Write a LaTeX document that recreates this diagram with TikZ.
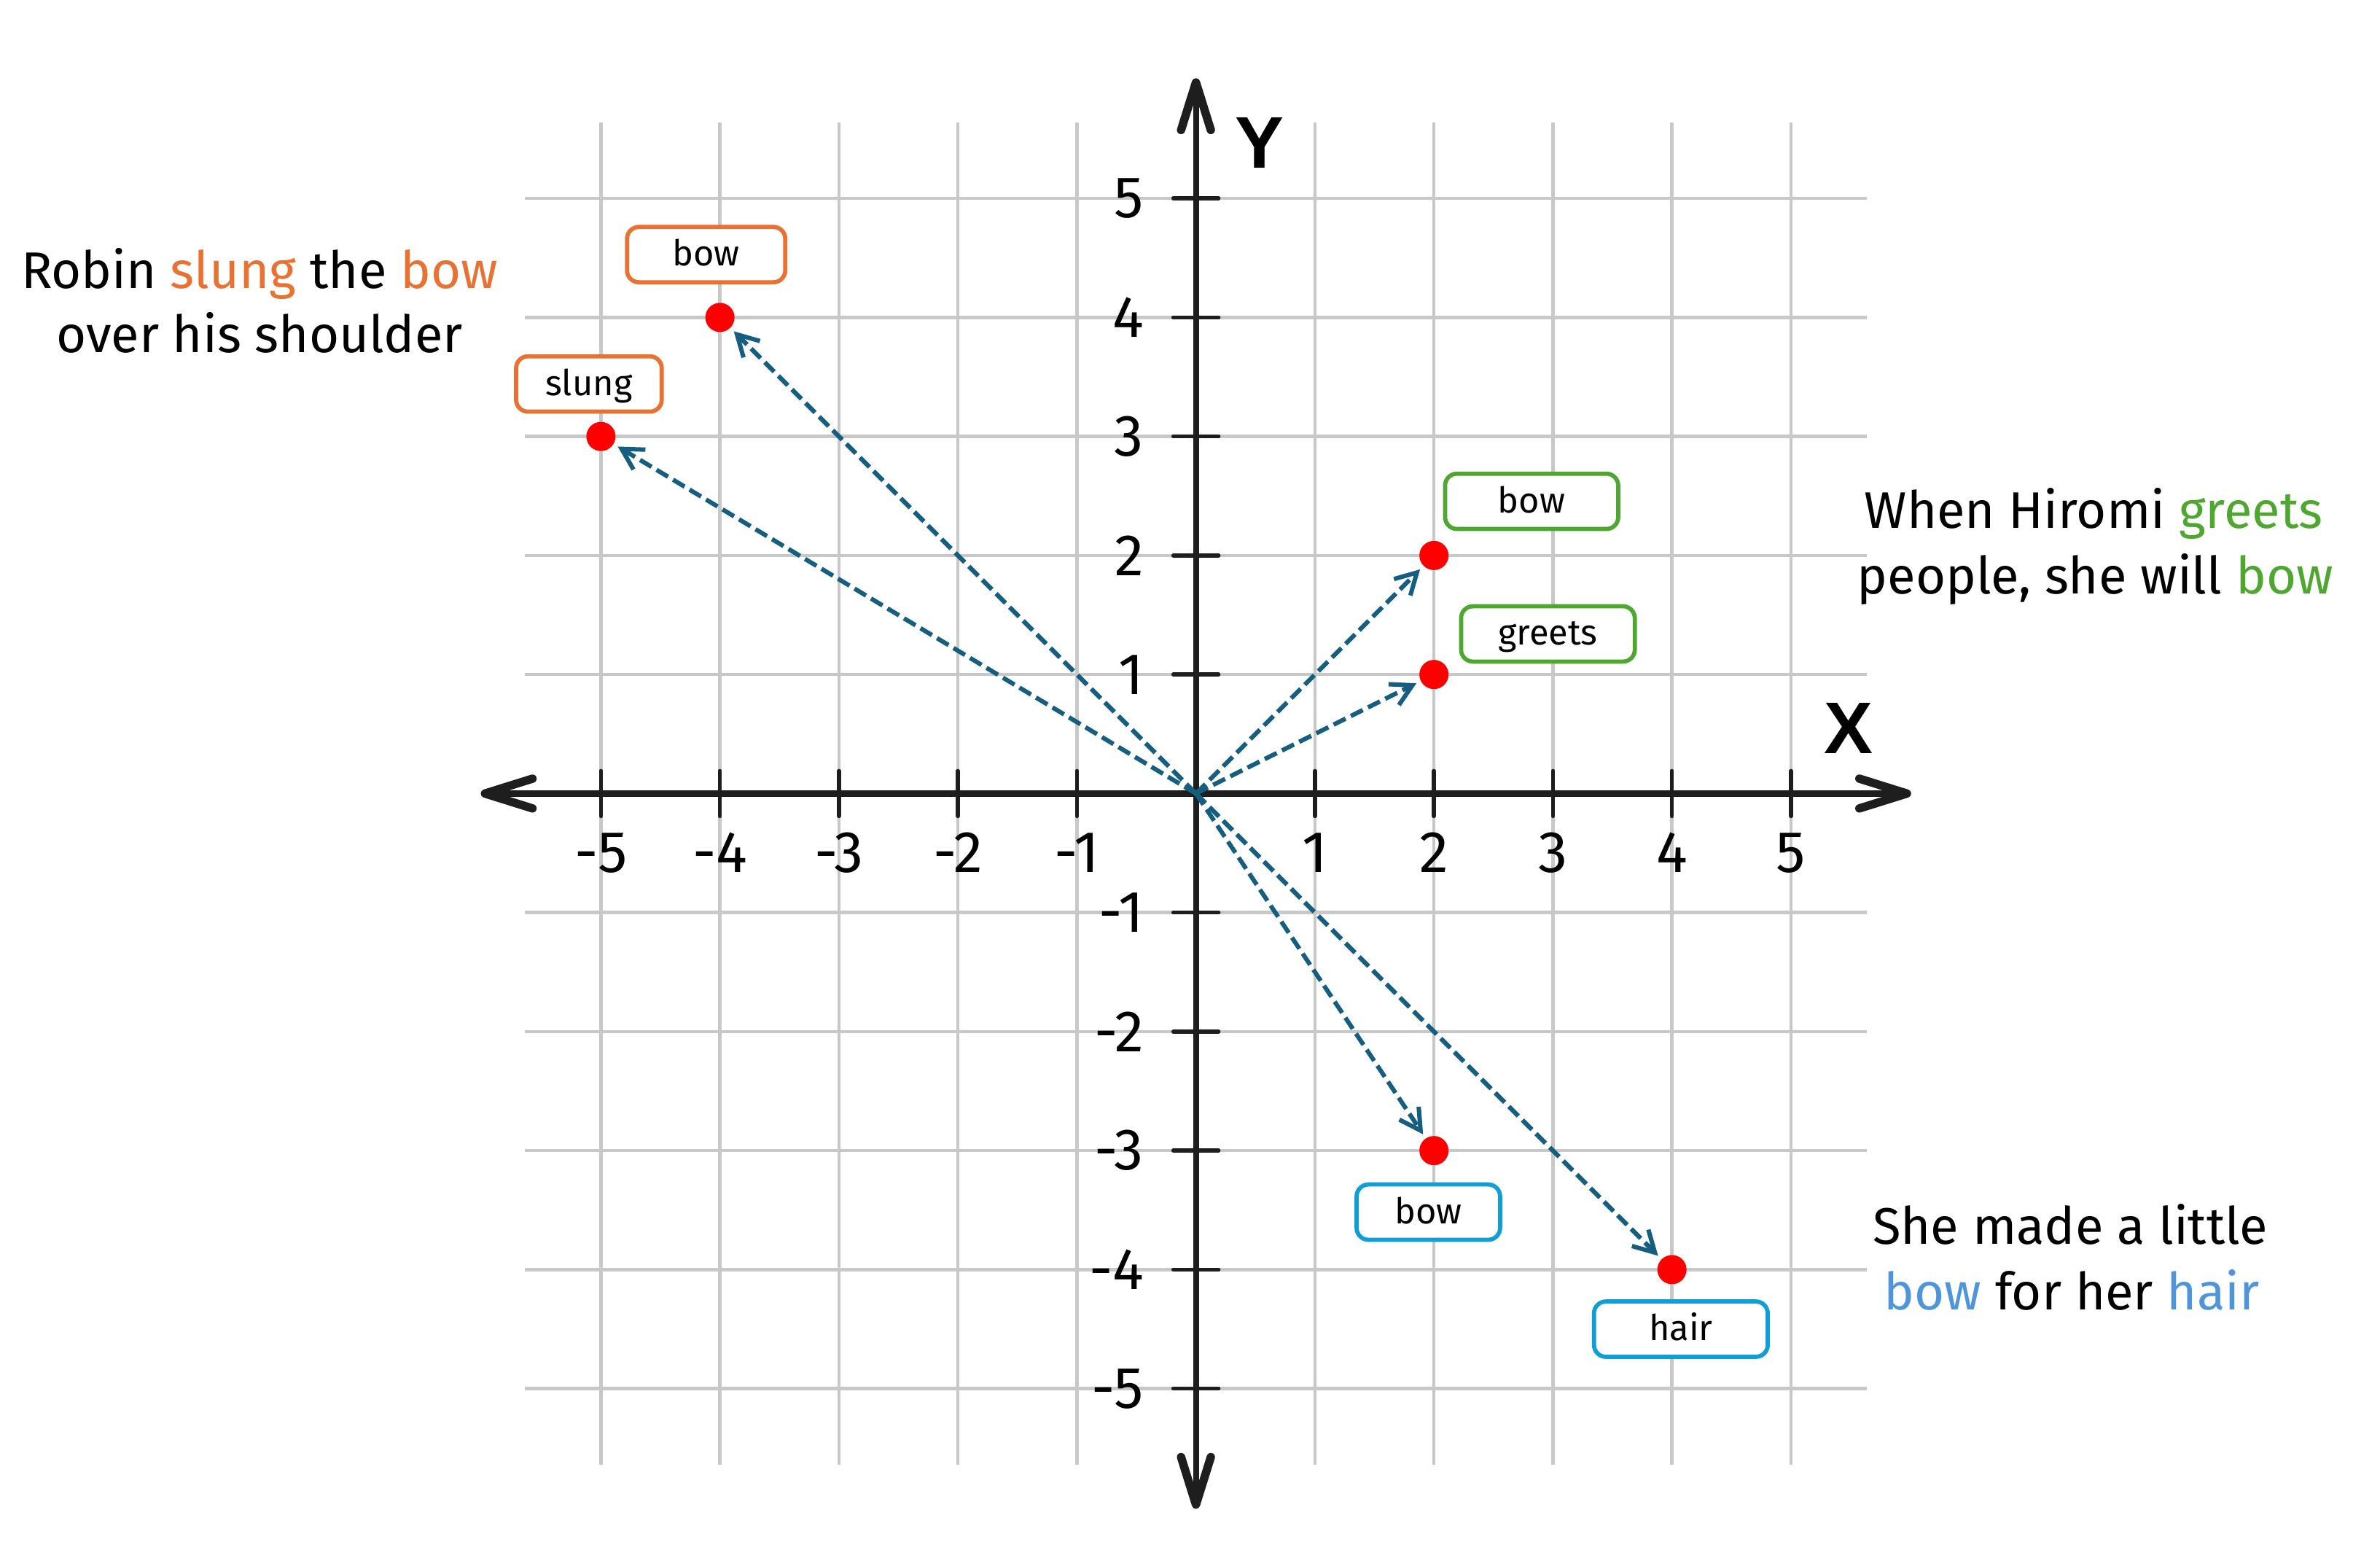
\documentclass[tikz,border=0pt]{standalone}
\usepackage{fontspec}
\setmainfont{Fira Sans}
\newfontfamily\axislabelfont{Liberation Sans}
\usetikzlibrary{arrows.meta,calc}
\definecolor{gridgray}{HTML}{C8C8C8}
\definecolor{axisblack}{HTML}{1E1E1E}
\definecolor{vecblue}{HTML}{155E80}
\definecolor{dotred}{HTML}{FF0000}
\definecolor{ornge}{HTML}{E97132}
\definecolor{grn}{HTML}{4EA72E}
\definecolor{boxblue}{HTML}{0F9ED5}
\definecolor{txtblue}{HTML}{4E95D9}
\begin{document}
\begin{tikzpicture}[
  gridline/.style={draw=gridgray, line width=0.8pt},
  axisline/.style={draw=axisblack, line width=1.45pt},
  axishead/.style={draw=axisblack, line width=2pt, line cap=round, line join=round},
  tickline/.style={draw=axisblack, line width=0.95pt, line cap=round},
  ticklabel/.style={font=\fontsize{14}{16}\selectfont, inner sep=0pt, text=black},
  axisname/.style={font=\axislabelfont\bfseries\fontsize{17.5}{20}\selectfont, inner sep=0pt},
  vec/.style={draw=vecblue, line width=1.05pt, dash pattern=on 3.2pt off 1.4pt,
    -{Straight Barb[length=1.75mm,width=1.95mm]}, shorten >=1pt},
  dot/.style={circle, fill=dotred, inner sep=0pt, minimum size=0.245cm},
  wordbox/.style={fill=white, rounded corners=1mm, line width=1pt, inner sep=0pt,
    minimum height=0.465cm, text height=0.19cm, text depth=0pt,
    font=\fontsize{8.5}{10}\selectfont},
  sentence/.style={font=\fontsize{12.3}{15}\selectfont, inner sep=0pt, anchor=base},
]
\useasboundingbox (-10.05,-6.283) rectangle (9.95,6.667);
\fill[white] (-10.05,-6.283) rectangle (9.95,6.667);

% grid
\foreach \i in {-5,...,5} {
  \draw[gridline] (\i,-5.64) -- (\i,5.64);
  \draw[gridline] (-5.64,\i) -- (5.64,\i);
}

% axes
\coordinate (O) at (0,0);
\coordinate (xlft) at (-5.975,0);
\coordinate (xrgt) at (5.975,0);
\coordinate (ybot) at (0,-5.975);
\coordinate (ytop) at (0,5.975);
\draw[axisline] (xlft) -- (xrgt);
\draw[axisline] (ybot) -- (ytop);
\draw[axishead] ($(xrgt)+(-0.40,0.125)$) -- (xrgt) -- ($(xrgt)+(-0.40,-0.125)$);
\draw[axishead] ($(xlft)+(0.40,0.125)$) -- (xlft) -- ($(xlft)+(0.40,-0.125)$);
\draw[axishead] ($(ytop)+(-0.125,-0.40)$) -- (ytop) -- ($(ytop)+(0.125,-0.40)$);
\draw[axishead] ($(ybot)+(-0.125,0.40)$) -- (ybot) -- ($(ybot)+(0.125,0.40)$);

% ticks and labels
\foreach \i [count=\k] in {-5,-4,-3,-2,-1,1,2,3,4,5} {
  \draw[tickline] (\i,-0.19) -- (\i,0.19);
  \draw[tickline] (-0.19,\i) -- (0.19,\i);
  \node[ticklabel, anchor=base] (xlab\k) at (\i,-0.665) {\i};
  \node[ticklabel, anchor=east] (ylab\k) at (-0.433,\i) {\i};
}
\node[axisname] (ylabel) at (0.537,5.467) {Y};
\node[axisname] (xlabel) at (5.482,0.55) {X};

% points
\node[dot] (slungdot) at (-5,3) {};
\node[dot] (bowdotA) at (-4,4) {};
\node[dot] (bowdotB) at (2,2) {};
\node[dot] (greetsdot) at (2,1) {};
\node[dot] (bowdotC) at (2,-3) {};
\node[dot] (hairdot) at (4,-4) {};

% vectors
\draw[vec] (O) -- (slungdot);
\draw[vec] (O) -- (bowdotA);
\draw[vec] (O) -- (bowdotB);
\draw[vec] (O) -- (greetsdot);
\draw[vec] (O) -- (bowdotC);
\draw[vec] (O) -- (hairdot);

% word boxes
\node[wordbox, draw=ornge, minimum width=1.33cm] (bowboxA) at (-4.116,4.528) {bow};
\node[wordbox, draw=ornge, minimum width=1.224cm] (slungbox) at (-5.101,3.441) {slung};
\node[wordbox, draw=grn, minimum width=1.455cm] (bowboxB) at (2.821,2.455) {bow};
\node[wordbox, draw=grn, minimum width=1.46cm] (greetsbox) at (2.958,1.341) {greets};
\node[wordbox, draw=boxblue, minimum width=1.206cm] (bowboxC) at (1.953,-3.517) {bow};
\node[wordbox, draw=boxblue, minimum width=1.46cm] (hairbox) at (4.075,-4.50) {hair};

% sentences
\node[sentence] (robinA) at (-7.869,4.247) {Robin \textcolor{ornge}{slung} the \textcolor{ornge}{bow}};
\node[sentence] (robinB) at (-7.869,3.708) {over his shoulder};
\node[sentence] (hiromiA) at (7.543,2.232) {When Hiromi \textcolor{grn}{greets}};
\node[sentence] (hiromiB) at (7.557,1.68) {people, she will \textcolor{grn}{bow}};
\node[sentence] (madeA) at (7.347,-3.788) {She made a little};
\node[sentence] (madeB) at (7.36,-4.338) {\textcolor{txtblue}{bow} for her \textcolor{txtblue}{hair}};
\end{tikzpicture}
\end{document}
